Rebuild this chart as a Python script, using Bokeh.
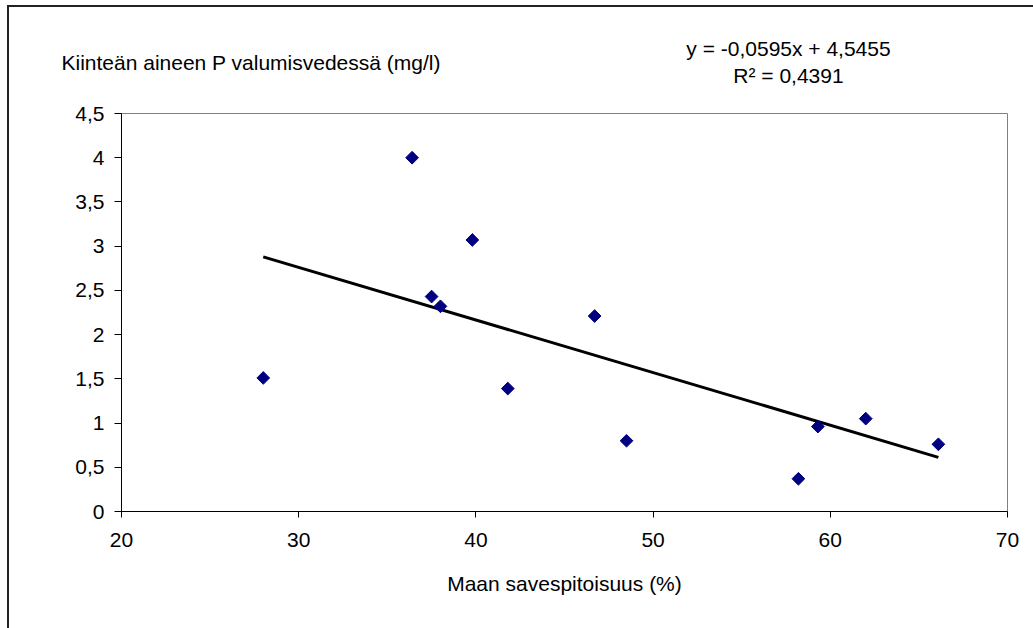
import numpy as np
from bokeh.plotting import figure
from bokeh.models import Range1d, FixedTicker, CustomJSTickFormatter, Label
from bokeh.embed import file_html
from bokeh.resources import INLINE

# ---- data ----
clay_pct = [28.0, 36.4, 37.5, 38.0, 39.8, 41.8, 46.7, 48.5, 58.2, 59.3, 62.0, 66.1]
solid_p = [1.51, 4.00, 2.43, 2.32, 3.07, 1.39, 2.21, 0.80, 0.37, 0.96, 1.05, 0.76]
trend_slope = -0.0595
trend_intercept = 4.5455
x_ticks = [20, 30, 40, 50, 60, 70]
y_ticks = [0, 0.5, 1, 1.5, 2, 2.5, 3, 3.5, 4, 4.5]
y_title = "Kiinteän aineen P valumisvedessä (mg/l)"
x_title = "Maan savespitoisuus (%)"
eq_line1 = "y = -0,0595x + 4,5455"
eq_line2 = "R\u00b2 = 0,4391"

# ---- layout ----
W, H = 1033, 628
FL, FR, FT, FB = 121, 1007, 113, 511
XMIN, XMAX, YMIN, YMAX = 20, 70, 0, 4.5
FONT = "Liberation Sans"
FS = "21px"

p = figure(width=W, height=H, output_backend="svg", toolbar_location=None,
           x_range=Range1d(XMIN, XMAX), y_range=Range1d(YMIN, YMAX),
           min_border_left=FL, min_border_right=W - FR,
           min_border_top=FT, min_border_bottom=H - FB)
p.background_fill_color = "white"
p.border_fill_alpha = 0
# outer chart frame: only its top and left edges are visible in the window
p.styles = {"background-color": "white",
            "box-shadow": "inset 7px 5px 0 0 white, inset 9px 7px 0 0 #222222"}
p.outline_line_color = "#808080"
p.outline_line_width = 1
p.xgrid.visible = False
p.ygrid.visible = False

fmt = CustomJSTickFormatter(code="return String(tick).replace('.', ',');")

xa = p.xaxis[0]
xa.ticker = FixedTicker(ticks=x_ticks)
xa.formatter = fmt
xa.axis_line_color = "black"
xa.major_tick_line_color = "black"
xa.major_tick_in = 0
xa.major_tick_out = 6
xa.minor_tick_line_color = None
xa.major_label_text_font = FONT
xa.major_label_text_font_size = FS
xa.major_label_text_color = "black"
xa.major_label_standoff = 15
xa.axis_label = x_title
xa.axis_label_text_font = FONT
xa.axis_label_text_font_size = FS
xa.axis_label_text_font_style = "normal"
xa.axis_label_text_color = "black"
xa.axis_label_standoff = 22

ya = p.yaxis[0]
ya.ticker = FixedTicker(ticks=y_ticks)
ya.formatter = fmt
ya.axis_line_color = "black"
ya.major_tick_line_color = "black"
ya.major_tick_in = 0
ya.major_tick_out = 7
ya.minor_tick_line_color = None
ya.major_label_text_font = FONT
ya.major_label_text_font_size = FS
ya.major_label_text_color = "black"
ya.major_label_standoff = 10

# trend line
tx = np.array([min(clay_pct), max(clay_pct)])
ty = trend_slope * tx + trend_intercept
p.line(tx, ty, line_color="black", line_width=3)

# points
p.scatter(clay_pct, solid_p, marker="square", angle=np.pi / 4, size=9,
          fill_color="#000080", line_color="#000080")

# texts in the (stacked) panels above the plot area; offsets account for stacking
for txt, x, y, align in [(y_title, 61 - FL, 51, "left"),
                         (eq_line1, 788 - FL, 42, "center"),
                         (eq_line2, 788 - FL, -8, "center")]:
    p.add_layout(Label(x=x, y=y, x_units="screen", y_units="screen", text=txt,
                       text_font=FONT, text_font_size=FS, text_baseline="middle",
                       text_align=align, text_color="black"), "above")

open("out.html", "w").write(file_html(p, INLINE))
